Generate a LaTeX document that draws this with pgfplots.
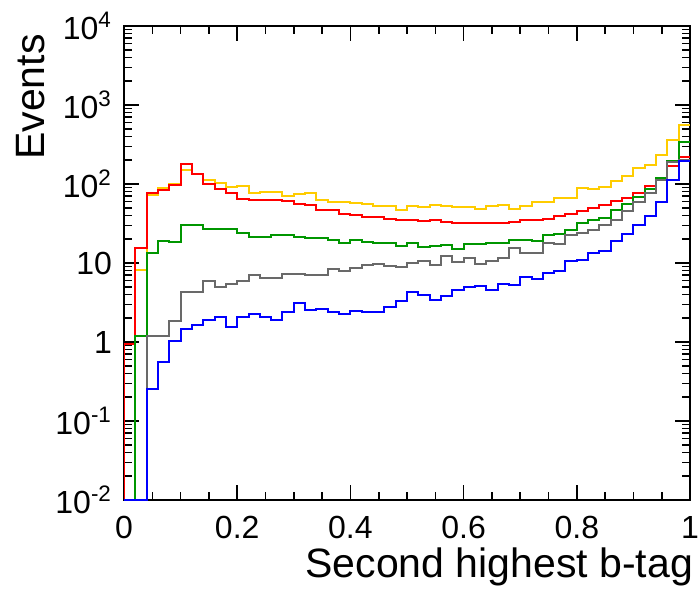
\documentclass[border=0pt]{standalone}
\usepackage{fontspec}
\setmainfont{Liberation Sans}
\usepackage{pgfplots}
\usepackage{pgfplotstable}
\pgfplotsset{compat=1.18}
\definecolor{cyel}{RGB}{255,204,0}
\definecolor{cred}{RGB}{255,0,0}
\definecolor{cgrn}{RGB}{0,150,0}
\definecolor{cgry}{RGB}{105,105,105}
\definecolor{cblu}{RGB}{0,0,255}
\pgfplotstableread{
x    yel    red    grn    gry    blu
0.00 1e-4   1e-4   1e-4   1e-4   1e-4
0.00 1e-4   0.93   1e-4   1e-4   0.01
0.02 8.25   15.7   1.18   1e-4   0.01
0.04 72     77     13.2   1.2    0.257
0.06 88     85     18.8   1.2    0.56
0.08 101    96     18.6   1.85   1.02
0.10 152    181    30     4.3    1.48
0.12 135    135    30     4.3    1.63
0.14 111    101    27     5.9    1.9
0.16 103    87     27     5.0    2.07
0.18 92     76     27     5.4    1.55
0.20 93.5   65     24     6.0    2.1
0.22 76     62     21.4   7.0    2.25
0.24 79     63     21.4   6.4    2.07
0.26 79     63     22.8   6.5    1.9
0.28 71     61     22.4   7.3    2.4
0.30 74     56     21.6   7.2    3.1
0.32 78     54     21     7.0    2.57
0.34 62     47.4   21     7.0    2.65
0.36 60     47.4   19.8   8.5    2.40
0.38 58.7   42.2   17.9   7.9    2.29
0.40 58     40.2   19.4   8.7    2.47
0.42 56.5   38.2   18.4   9.35   2.40
0.44 52.7   38.2   17.9   9.6    2.40
0.46 52.7   36.5   17.9   9.2    2.77
0.48 46.5   34.7   16.3   8.9    3.27
0.50 52.7   34.7   17.9   10.1   4.3
0.52 51.2   34     16     10.5   3.98
0.54 54.8   34.7   16.3   9.35   3.44
0.56 52.7   33     16.7   12.2   3.79
0.58 51.2   32.1   15     10.3   4.6
0.60 51.2   32.1   17.3   11.7   4.97
0.62 47.8   32     17.4   9.7    5.1
0.64 52.7   32.5   17.8   10.6   4.5
0.66 54.8   32.5   18.1   11.7   5.45
0.68 48.8   33     19.8   15.5   5.3
0.70 52.7   35.4   19.4   13.2   6.65
0.72 59.2   35.4   18.8   13.5   6.35
0.74 59.2   36.5   22.9   18.1   7.55
0.76 67.3   39     23.6   17.6   7.9
0.78 67.3   41.3   25.9   22.4   10.5
0.80 89     45.1   32.5   24     11.0
0.82 85.7   49.7   34.7   25.9   13.4
0.84 91.6   53.7   37.5   30     14.2
0.86 109    60.4   47.4   35.4   18.8
0.88 126    67.3   56.5   45.1   23.6
0.90 160    77     68.5   60     30
0.92 175    93.5   86     78     39.5
0.94 233    119    120    112    60
0.96 365    169    197    190    111
0.98 565    220    340    200    198
1.00 565    220    340    200    198
}\histdata
\begin{document}
\begin{tikzpicture}
\path[use as bounding box] (-62pt,-44pt) rectangle (287.5pt,250pt);
\begin{axis}[
  scale only axis, width=283pt, height=237pt,
  at={(0,0)}, anchor=south west,
  ymode=log, xmin=0, xmax=1, ymin=1e-2, ymax=1e4,
  axis line style={line width=1pt},
  xtick={0,0.2,0.4,0.6,0.8,1},
  xticklabels={0,0.2,0.4,0.6,0.8,1},
  minor x tick num=3,
  ytick={1e-2,1e-1,1,10,100,1000,10000},
  yticklabels={10\textsuperscript{-2},10\textsuperscript{-1},1,10,10\textsuperscript{2},10\textsuperscript{3},10\textsuperscript{4}},
  minor ytick={0.02,0.03,0.04,0.05,0.06,0.07,0.08,0.09,0.2,0.3,0.4,0.5,0.6,0.7,0.8,0.9,2,3,4,5,6,7,8,9,20,30,40,50,60,70,80,90,200,300,400,500,600,700,800,900,2000,3000,4000,5000,6000,7000,8000,9000},
  tick align=inside, tick pos=both,
  major tick length=7.5pt, minor tick length=3.8pt,
  every tick/.style={black, line width=0.8pt},
  tick label style={font=\fontsize{16}{16}\selectfont},
  xticklabel style={yshift=-4.5pt},
  yticklabel style={xshift=-2.5pt},
  xlabel={Second highest b-tag},
  xlabel style={at={(axis description cs:1,0)}, anchor=base east, xshift=5pt, yshift=-38.5pt, font=\fontsize{20.5}{20.5}\selectfont},
  ylabel={Events},
  ylabel style={at={(axis description cs:-0.1396,0.997)}, anchor=base east, font=\fontsize{20.5}{20.5}\selectfont},
  every axis plot/.append style={const plot mark left, no marks, line width=1pt},
]
\addplot[cyel] table[x=x,y=yel] {\histdata};
\addplot[cred] table[x=x,y=red] {\histdata};
\addplot[cgrn] table[x=x,y=grn] {\histdata};
\addplot[cgry] table[x=x,y=gry] {\histdata};
\addplot[cblu] table[x=x,y=blu] {\histdata};
\end{axis}
\end{tikzpicture}
\end{document}
